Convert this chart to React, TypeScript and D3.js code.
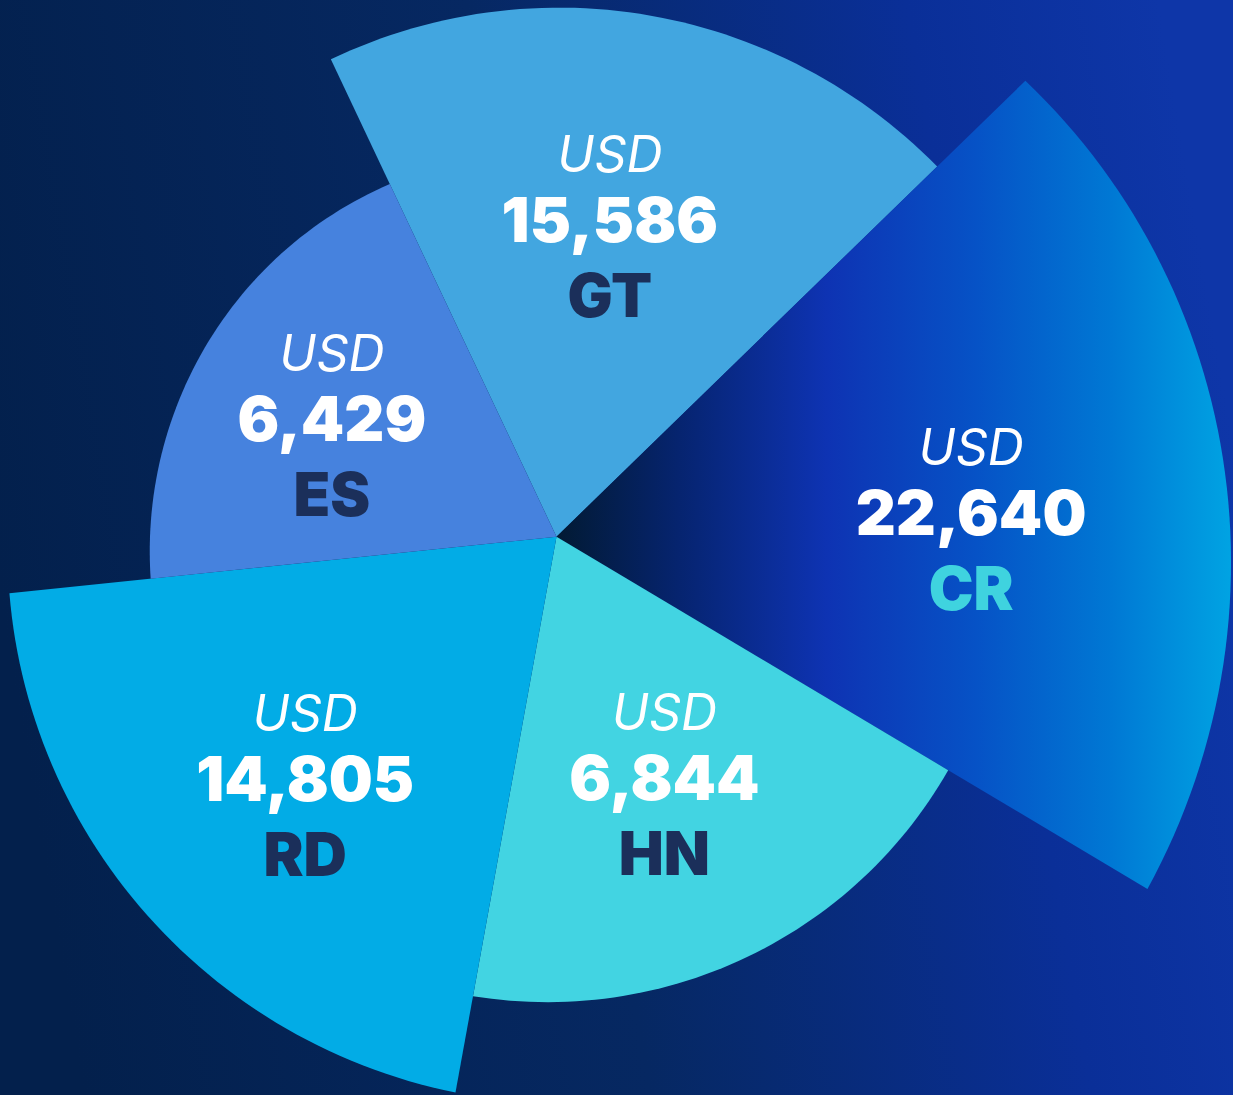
import { useEffect } from "react";
import * as d3 from "d3";

// slice order, clockwise from the top-left edge
const codes = ["GT", "CR", "HN", "RD", "ES"];
const amounts = [15586, 22640, 6844, 14805, 6429];
const currency = "USD";

const W = 1233;
const H = 1095;
const cx = 556.5;
const cy = 536.7;
const rad = Math.PI / 180;

const sweep: Record<string, number> = { GT: 71.1, CR: 75.0, HN: 69.5, RD: 73.8, ES: 70.6 };
const edgeR: Record<string, [number, number]> = {
  GT: [528, 531],
  CR: [654, 688],
  HN: [456, 467],
  RD: [565, 550],
  ES: [408, 390],
};
const fills: Record<string, string> = {
  GT: "#42a6e0",
  CR: "url(#crGrad)",
  HN: "#42d4e2",
  RD: "#02ace6",
  ES: "#4682de",
};
const labelPlace: Record<string, [number, number]> = {
  GT: [-0.5, 315],
  CR: [4.2, 415],
  HN: [0.9, 270],
  RD: [-1.8, 353],
  ES: [-2.9, 251],
};

function App() {
  useEffect(() => {
    document.body.style.margin = "0";
    document.body.style.background = "#03204c";
  }, []);

  const rows = codes.map((code, i) => ({ code, amount: amounts[i] }));

  const pie = d3
    .pie<{ code: string; amount: number }>()
    .sort(null)
    .value((d) => sweep[d.code])
    .startAngle(-25.3 * rad)
    .endAngle(334.7 * rad);

  const line = d3
    .lineRadial<[number, number]>()
    .angle((d) => d[0])
    .radius((d) => d[1]);

  const fmt = d3.format(",");

  const slices = pie(rows).map((s) => {
    const [r0, r1] = edgeR[s.data.code];
    const rScale = d3.scaleLinear().domain([s.startAngle, s.endAngle]).range([r0, r1]);
    const steps = d3.range(0, 61).map((k) => s.startAngle + ((s.endAngle - s.startAngle) * k) / 60);
    const pts: [number, number][] = [[s.startAngle, 0], ...steps.map((a) => [a, rScale(a)] as [number, number])];
    const mid = (s.startAngle + s.endAngle) / 2;
    const [nudge, lr] = labelPlace[s.data.code];
    const la = mid + nudge * rad;
    return {
      code: s.data.code,
      amount: s.data.amount,
      d: line(pts) + "Z",
      lx: Math.sin(la) * lr,
      ly: -Math.cos(la) * lr,
    };
  });

  return (
    <svg width={W} height={H} style={{ display: "block" }}>
      <defs>
        <linearGradient id="bgGrad" x1="0" y1="0.55" x2="1" y2="0.4">
          <stop offset="0" stopColor="#03204c" />
          <stop offset="0.45" stopColor="#062862" />
          <stop offset="0.8" stopColor="#0a2f98" />
          <stop offset="1" stopColor="#0e36a8" />
        </linearGradient>
        <linearGradient id="crGrad" gradientUnits="userSpaceOnUse" x1="0" y1="0" x2={W - cx} y2="0">
          <stop offset="0" stopColor="#021a33" />
          <stop offset="0.18" stopColor="#06246f" />
          <stop offset="0.4" stopColor="#0e33b3" />
          <stop offset="0.62" stopColor="#0652c6" />
          <stop offset="0.82" stopColor="#0078d4" />
          <stop offset="1" stopColor="#00a4e3" />
        </linearGradient>
      </defs>
      <rect width={W} height={H} fill="url(#bgGrad)" />
      <g transform={`translate(${cx},${cy})`}>
        {slices.map((s) => (
          <path key={s.code} d={s.d} fill={fills[s.code]} />
        ))}
        {slices.map((s) => (
          <g key={"t" + s.code} transform={`translate(${s.lx},${s.ly})`} textAnchor="middle" fontFamily="Inter, 'Open Sans', sans-serif">
            <text y={-54} fill="#ffffff" fontSize={50} fontStyle="italic" fontWeight={400}>
              {currency}
            </text>
            <text y={16} fill="#ffffff" fontSize={62} fontWeight={900}>
              {fmt(s.amount)}
            </text>
            <text y={91} fill={s.code === "CR" ? "#3fd3df" : "#1b2f5a"} fontSize={60} fontWeight={900}>
              {s.code}
            </text>
          </g>
        ))}
      </g>
    </svg>
  );
}

export default App;
